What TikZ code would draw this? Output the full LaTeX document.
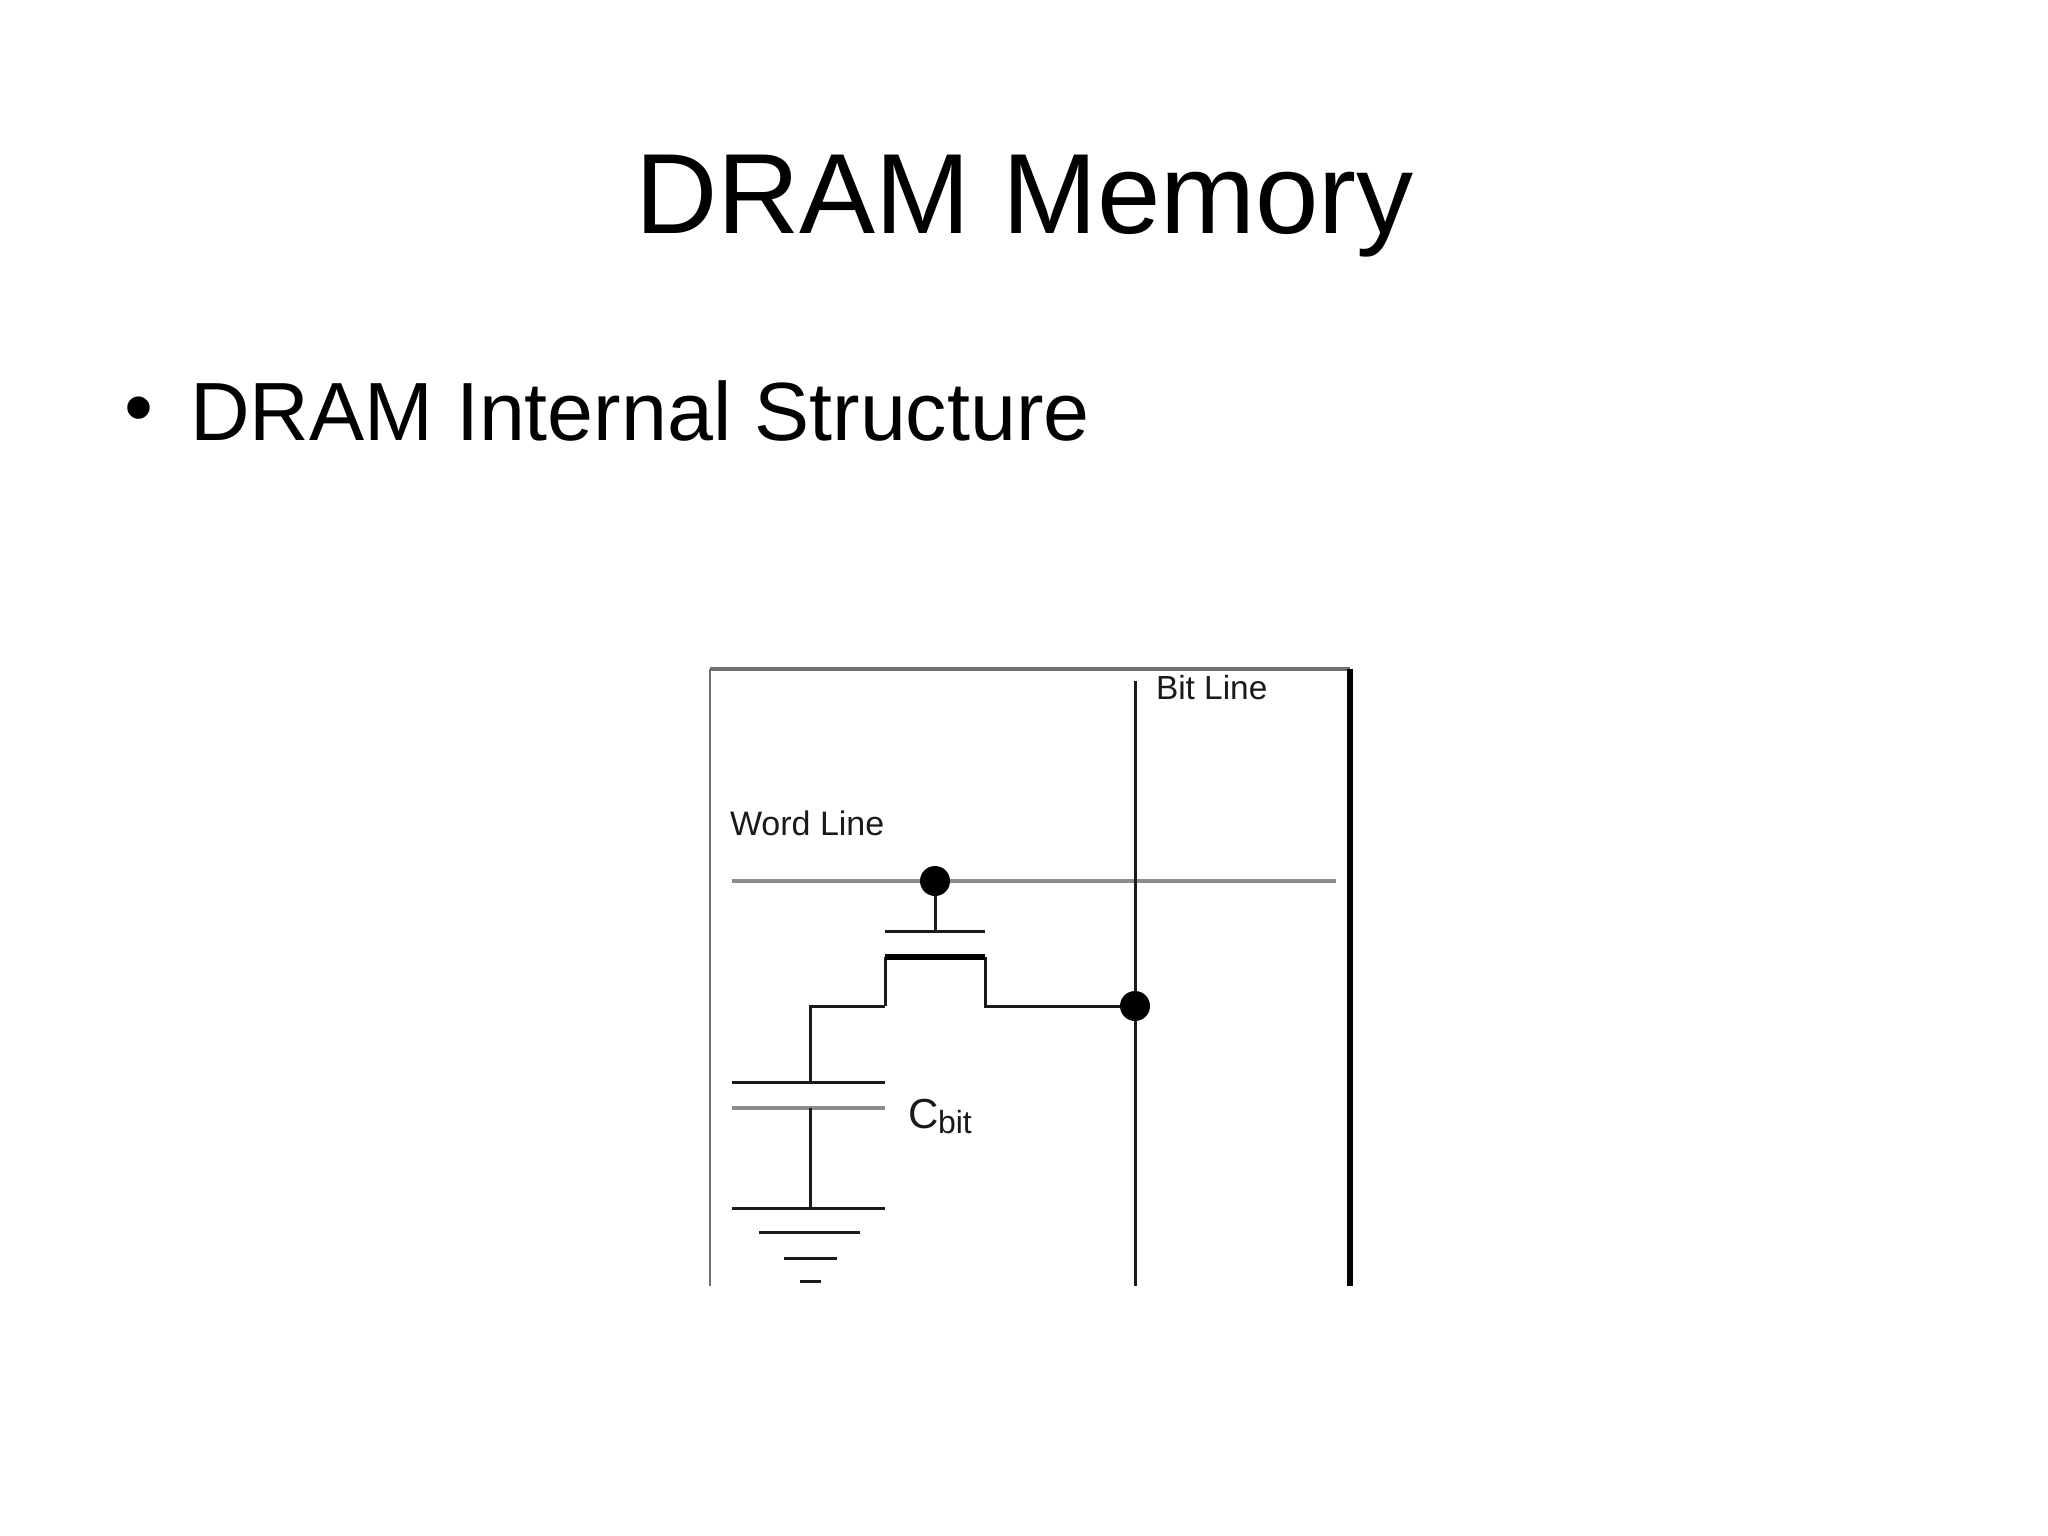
\documentclass[tikz,border=0pt]{standalone}
\usepackage{fontspec}
\setmainfont{Liberation Sans}
\definecolor{wiregray}{HTML}{8C8C8C}
\definecolor{framegray}{HTML}{707070}
\definecolor{wireblack}{HTML}{1A1A1A}
\begin{document}
\begin{tikzpicture}[
    x=0.5pt, y=-0.5pt,
    txt/.style={inner sep=0pt, outer sep=0pt, anchor=base west, text=black},
    dot/.style={circle, fill=black, inner sep=0pt, minimum size=15pt, outer sep=0pt},
    wire/.style={draw=wireblack, line width=1.5pt},
    thickwire/.style={draw=black, line width=2.6pt},
    graywire/.style={draw=wiregray, line width=1.9pt},
    frameline/.style={draw=framegray, line width=1.3pt},
    frametop/.style={draw=framegray, line width=1.8pt}
]
\useasboundingbox (0,0) rectangle (2048,1535);

% Slide text
\node[txt, font=\fontsize{57}{60}\selectfont] (title) at (635,234) {DRAM Memory};
\node[txt, font=\fontsize{41.3}{44}\selectfont] (bullet) at (124,435) {•};
\node[txt, font=\fontsize{41.3}{44}\selectfont] (sub) at (190,440) {DRAM Internal Structure};

% Labels
\node[txt, font=\fontsize{17}{20}\selectfont, text=wireblack] (wordlbl) at (730,835) {Word Line};
\node[txt, font=\fontsize{16.7}{20}\selectfont, text=wireblack] (bitlbl) at (1156,699) {Bit Line};
\node[txt, font=\fontsize{21}{24}\selectfont, text=wireblack] (clbl) at (908,1128) {C};
\node[txt, font=\fontsize{16}{18}\selectfont, text=wireblack] (bitsub) at (938,1133) {bit};

% Frame corners
\coordinate (ftl) at (710,669);
\coordinate (ftr) at (1350,669);
\coordinate (fbl) at (710,1286);
\coordinate (fbr) at (1350,1286);

% Word line and bit line
\coordinate (wl) at (732,881);
\coordinate (wr) at (1336,881);
\coordinate (bt) at (1135,681);
\coordinate (bb) at (1135,1286);
\node[dot] (wdot) at (935,881) {};
\node[dot] (bdot) at (1135,1006) {};

% Transistor
\coordinate (gl) at (885,931);
\coordinate (gr) at (985,931);
\coordinate (gm) at (935,931);
\coordinate (cl) at (885,957);
\coordinate (cr) at (985,957);
\coordinate (sl) at (885,1006);
\coordinate (sr) at (985,1006);
\coordinate (kn) at (810,1006);

% Capacitor and ground
\coordinate (c1l) at (732,1082);
\coordinate (c1r) at (885,1082);
\coordinate (c1m) at (810,1082);
\coordinate (c2l) at (732,1108);
\coordinate (c2r) at (885,1108);
\coordinate (c2m) at (810,1108);
\coordinate (g0l) at (732,1208);
\coordinate (g0r) at (885,1208);
\coordinate (g0m) at (810,1208);
\coordinate (g1l) at (759,1232);
\coordinate (g1r) at (860,1232);
\coordinate (g2l) at (784,1258);
\coordinate (g2r) at (837,1258);
\coordinate (g3l) at (800,1281);
\coordinate (g3r) at (821,1281);

\draw[frameline] (fbl) -- (ftl);
\draw[frametop] (ftl) -- (ftr);
\draw[thickwire] (ftr) -- (fbr);
\draw[graywire] (wl) -- (wdot);
\draw[graywire] (wdot) -- (wr);
\draw[wire] (bt) -- (bdot);
\draw[wire] (bdot) -- (bb);
\draw[wire] (wdot) -- (gm);
\draw[wire] (gl) -- (gr);
\draw[wire] (bdot) -- (sr) -- (cr);
\draw[wire] (sl) -- (cl);
\draw[thickwire] (cl) -- (cr);
\draw[wire] (sl) -- (kn) -- (c1m);
\draw[wire] (c1l) -- (c1r);
\draw[graywire] (c2l) -- (c2r);
\draw[wire] (c2m) -- (g0m);
\draw[wire] (g0l) -- (g0r);
\draw[wire] (g1l) -- (g1r);
\draw[wire] (g2l) -- (g2r);
\draw[wire] (g3l) -- (g3r);
\end{tikzpicture}
\end{document}
